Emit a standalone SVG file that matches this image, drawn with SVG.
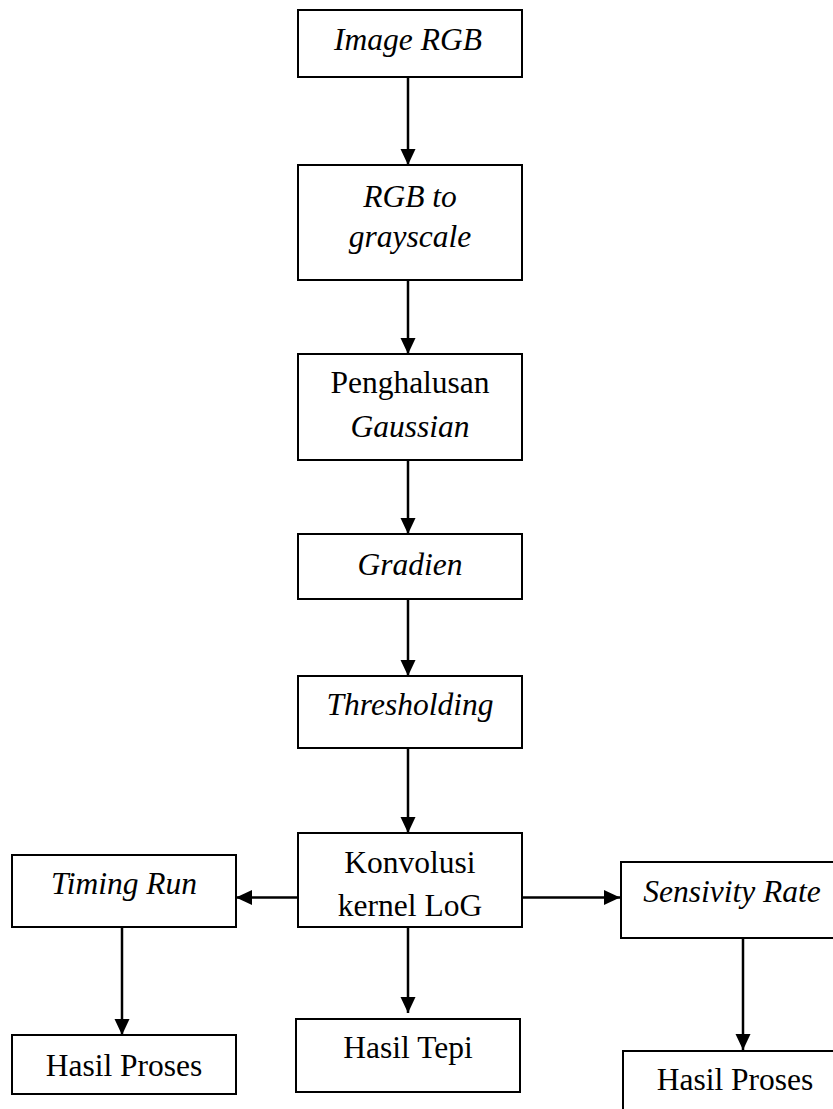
<svg xmlns="http://www.w3.org/2000/svg" width="833" height="1109" viewBox="0 0 833 1109">
<style>
rect.box{fill:#fff;stroke:#000;stroke-width:2}
text{font-family:"Liberation Serif","Times New Roman",serif;font-size:31.5px;fill:#000;text-anchor:middle}
.it{font-style:italic}
.conn line{stroke:#000;stroke-width:2.5}
</style>
<defs>
<marker id="ah" markerUnits="userSpaceOnUse" markerWidth="17" markerHeight="17" viewBox="0 0 17 17" refX="16" refY="8.5" orient="auto">
<path d="M0,1 L16,8.5 L0,16 Z" fill="#000"/>
</marker>
</defs>
<rect width="833" height="1109" fill="#fff"/>
<g class="conn" id="connectors">
<line x1="408" y1="77" x2="408" y2="165" marker-end="url(#ah)"/>
<line x1="408" y1="280" x2="408" y2="354" marker-end="url(#ah)"/>
<line x1="408" y1="460" x2="408" y2="534" marker-end="url(#ah)"/>
<line x1="408" y1="599" x2="408" y2="676" marker-end="url(#ah)"/>
<line x1="408" y1="748" x2="408" y2="833" marker-end="url(#ah)"/>
<line x1="298" y1="897.5" x2="236" y2="897.5" marker-end="url(#ah)"/>
<line x1="522" y1="897.5" x2="620" y2="897.5" marker-end="url(#ah)"/>
<line x1="408" y1="927" x2="408" y2="1013" marker-end="url(#ah)"/>
<line x1="122" y1="927" x2="122" y2="1035" marker-end="url(#ah)"/>
<line x1="743" y1="938" x2="743" y2="1050" marker-end="url(#ah)"/>
</g>
<g id="image-rgb"><rect class="box" x="298" y="10" width="224" height="67"/><text class="it" x="408" y="50">Image RGB</text></g>
<g id="rgb-to-grayscale"><rect class="box" x="298" y="165" width="224" height="115"/><text class="it" x="410" y="207">RGB to</text><text class="it" x="410" y="247">grayscale</text></g>
<g id="penghalusan"><rect class="box" x="298" y="354" width="224" height="106"/><text x="410" y="393">Penghalusan</text><text class="it" x="410" y="437">Gaussian</text></g>
<g id="gradien"><rect class="box" x="298" y="534" width="224" height="65"/><text class="it" x="410" y="575">Gradien</text></g>
<g id="thresholding"><rect class="box" x="298" y="676" width="224" height="72"/><text class="it" x="410" y="715">Thresholding</text></g>
<g id="konvolusi"><rect class="box" x="298" y="833" width="224" height="94"/><text x="410" y="873">Konvolusi</text><text x="410" y="916">kernel LoG</text></g>
<g id="timing-run"><rect class="box" x="12" y="855" width="224" height="72"/><text class="it" x="124" y="894">Timing Run</text></g>
<g id="hasil-proses-left"><rect class="box" x="12" y="1035" width="224" height="59"/><text x="124" y="1076">Hasil Proses</text></g>
<g id="hasil-tepi"><rect class="box" x="296" y="1019" width="224" height="73"/><text x="408" y="1058">Hasil Tepi</text></g>
<g id="sensivity-rate"><rect class="box" x="621" y="862" width="224" height="76"/><text class="it" x="732" y="902">Sensivity Rate</text></g>
<g id="hasil-proses-right"><rect class="box" x="623" y="1051" width="224" height="70"/><text x="735" y="1090">Hasil Proses</text></g>
</svg>
